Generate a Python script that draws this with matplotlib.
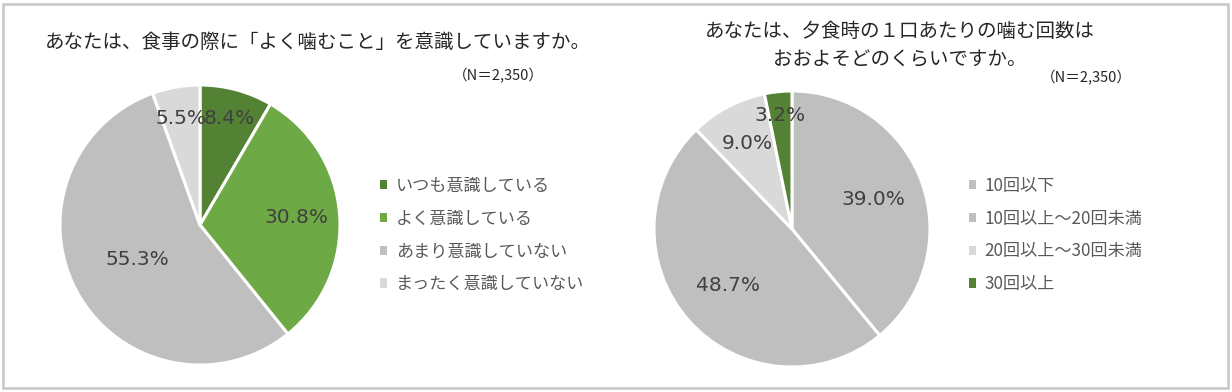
import matplotlib
matplotlib.use("Agg")
import matplotlib.pyplot as plt
from matplotlib.patches import Patch, Rectangle
import numpy as np

plt.rcParams['font.family'] = ['Noto Sans CJK JP', 'DejaVu Sans']

# data
labels1 = ["いつも意識している", "よく意識している", "あまり意識していない", "まったく意識していない"]
values1 = [8.4, 30.8, 55.3, 5.5]
colors1 = ["#548235", "#6DA944", "#BFBFBF", "#D9D9D9"]
title1 = "あなたは、食事の際に「よく噛むこと」を意識していますか。"

labels2 = ["10回以下", "10回以上～20回未満", "20回以上～30回未満", "30回以上"]
values2 = [39.0, 48.7, 9.0, 3.2]
colors2 = ["#BFBFBF", "#BFBFBF", "#D9D9D9", "#548235"]
title2 = "あなたは、夕食時の１口あたりの噛む回数は\nおおよそどのくらいですか。"

n_label = "（N＝2,350）"

# label radius (fraction of pie radius) for each slice
lab_r1 = [0.79, 0.69, 0.51, 0.77]
lab_r2 = [0.63, 0.62, 0.70, 0.83]

W, H = 1232, 392
fig = plt.figure(figsize=(W / 100, H / 100), dpi=100)


def px_axes(cx, cy, r):
    return fig.add_axes([(cx - r) / W, (H - cy - r) / H, 2 * r / W, 2 * r / H])


def draw_pie(ax, values, colors, lab_r):
    wedges, _ = ax.pie(values, colors=colors, startangle=90, counterclock=False,
                       wedgeprops=dict(edgecolor="white", linewidth=2.2))
    total = sum(values)
    start = 90.0
    for v, rr in zip(values, lab_r):
        mid = np.deg2rad(start - v / total * 180)
        start -= v / total * 360
        ax.text(rr * np.cos(mid), rr * np.sin(mid), f"{v:.1f}%", ha="center", va="center",
                fontsize=14.5, color="#404040", family="DejaVu Sans")
    ax.set_xlim(-1, 1)
    ax.set_ylim(-1, 1)
    ax.set_aspect("equal")
    ax.axis("off")
    return wedges


ax1 = px_axes(200, 225, 140)
draw_pie(ax1, values1, colors1, lab_r1)
ax2 = px_axes(792, 229, 138)
draw_pie(ax2, values2, colors2, lab_r2)

# titles
fig.text(318 / W, 1 - 42 / H, title1, ha="center", va="center", fontsize=14, color="#262626")
fig.text(900 / W, 1 - 46 / H, title2, ha="center", va="center", fontsize=14, color="#262626",
         linespacing=1.45)
fig.text(498 / W, 1 - 76 / H, n_label, ha="center", va="center", fontsize=10.5, color="#262626")
fig.text(1086 / W, 1 - 78 / H, n_label, ha="center", va="center", fontsize=10.5, color="#262626")

# legends
for lbls, cols, x, y in [(labels1, colors1, 371, 235), (labels2, colors2, 960, 235)]:
    handles = [Patch(facecolor=c, edgecolor="none") for c in cols]
    fig.legend(handles, lbls, loc="center left", bbox_to_anchor=(x / W, 1 - y / H),
               frameon=False, fontsize=12.3, labelcolor="#595959", handlelength=0.45,
               handleheight=0.45, handletextpad=0.5, labelspacing=0.86, borderpad=0)

# outer border
fig.add_artist(Rectangle((3 / W, 4 / H), (W - 7) / W, (H - 8) / H, transform=fig.transFigure,
                         fill=False, edgecolor="#C8C8C8", linewidth=1.8))

fig.savefig("out.png", dpi=100)
